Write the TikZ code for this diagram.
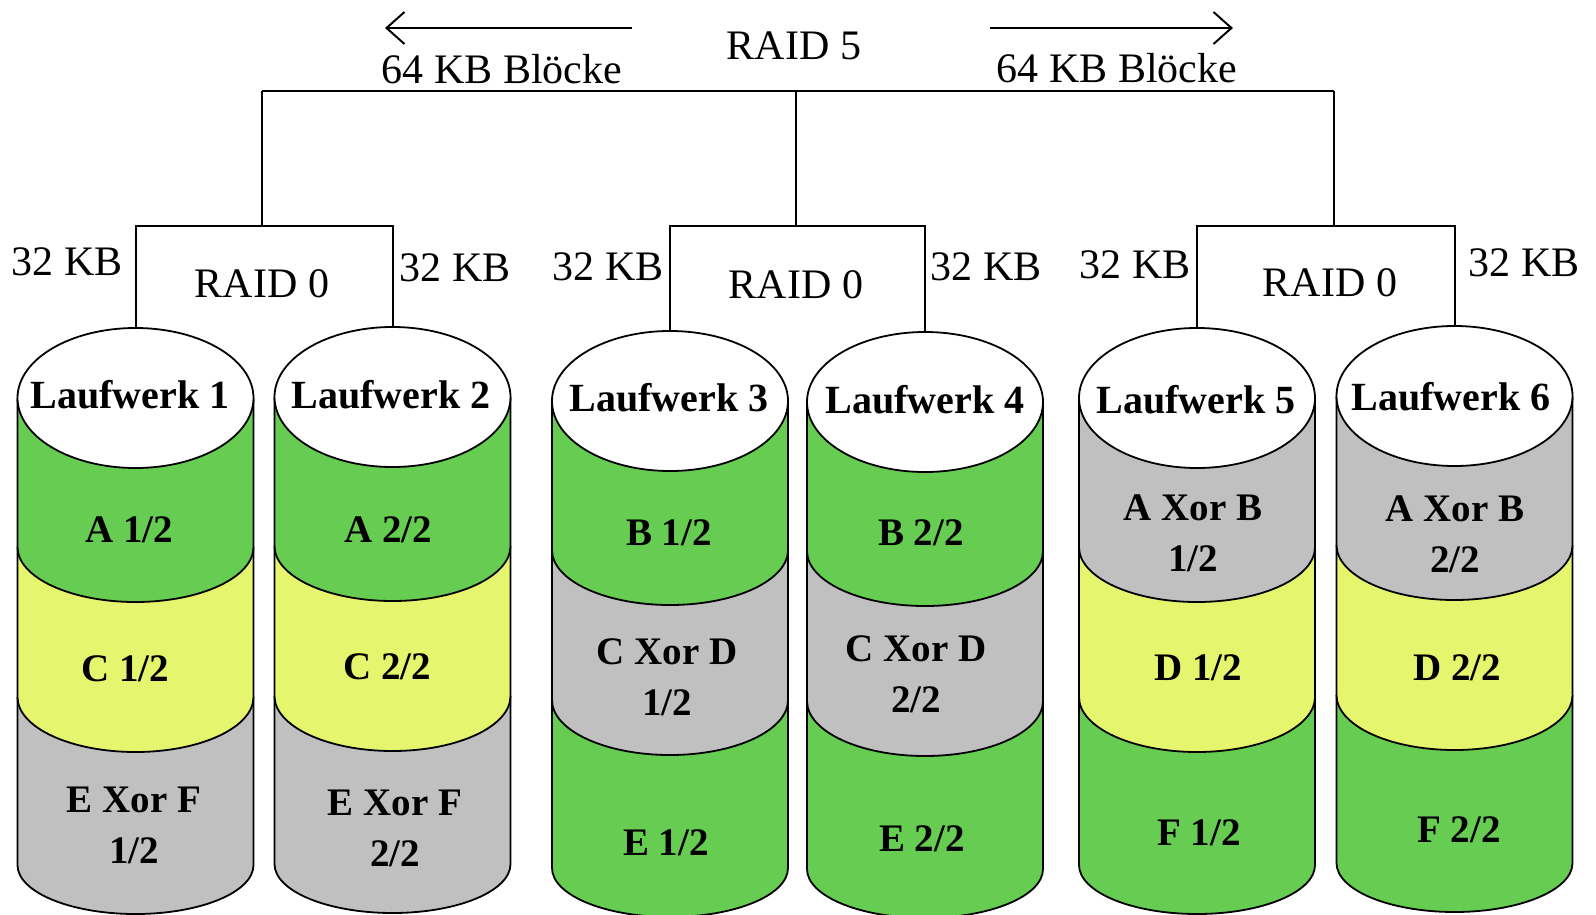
\documentclass[tikz,border=0pt]{standalone}
\usepackage{fontspec}
\setmainfont{Liberation Serif}
\usetikzlibrary{arrows.meta}

\definecolor{diskgreen}{RGB}{102,204,82}
\definecolor{diskyellow}{RGB}{230,245,110}
\definecolor{diskgray}{RGB}{192,192,192}

% \disk{cx}{ty}{band 1}{band 2}{band 3}{name of top point}
% cx: axis of the drive, ty: centre of the top lid (y grows downwards)
\newcommand\disk[6]{%
  % lowest band
  \fill[#5] ({#1-118},{#2+299}) -- ({#1-118},{#2+467})
     arc[start angle=180,end angle=360,x radius=118pt,y radius=49pt]
     -- ({#1+118},{#2+299}) -- cycle;
  \draw[diskline] ({#1-118},{#2+299}) -- ({#1-118},{#2+467})
     arc[start angle=180,end angle=360,x radius=118pt,y radius=49pt]
     -- ({#1+118},{#2+299});
  % middle band
  \fill[#4] ({#1-118},{#2+149}) -- ({#1-118},{#2+299})
     arc[start angle=180,end angle=360,x radius=118pt,y radius=55pt]
     -- ({#1+118},{#2+149}) -- cycle;
  \draw[diskline] ({#1-118},{#2+149}) -- ({#1-118},{#2+299})
     arc[start angle=180,end angle=360,x radius=118pt,y radius=55pt]
     -- ({#1+118},{#2+149});
  % upper band
  \fill[#3] ({#1-118},{#2}) -- ({#1-118},{#2+149})
     arc[start angle=180,end angle=360,x radius=118pt,y radius=55pt]
     -- ({#1+118},{#2}) -- cycle;
  \draw[diskline] ({#1-118},{#2}) -- ({#1-118},{#2+149})
     arc[start angle=180,end angle=360,x radius=118pt,y radius=55pt]
     -- ({#1+118},{#2});
  % lid
  \filldraw[diskline,fill=white] (#1,#2) ellipse[x radius=118pt,y radius=70pt];
  \coordinate (#6) at (#1,{#2-70});
}

\tikzset{
  wire/.style={line width=2pt,black},
  diskline/.style={line width=1.8pt,black},
  lbl/.style={inner sep=0pt,font=\fontsize{42}{48}\selectfont},
  drivename/.style={inner sep=0pt,font=\fontsize{40}{46}\selectfont\bfseries},
  blocktext/.style={inner sep=0pt,align=center,font=\fontsize{39}{51}\selectfont\bfseries},
  barb/.style={line width=2pt,-{Straight Barb[length=18pt,width=32pt,line width=2pt]}}
}

\begin{document}
\begin{tikzpicture}[x=1pt,y=-1pt]
\useasboundingbox (0,0) rectangle (1596,915);

% drives
\disk{135.5}{398}{diskgreen}{diskyellow}{diskgray}{d1}
\disk{392.5}{397}{diskgreen}{diskyellow}{diskgray}{d2}
\disk{670}{401}{diskgreen}{diskgray}{diskgreen}{d3}
\disk{925}{402}{diskgreen}{diskgray}{diskgreen}{d4}
\disk{1197}{398}{diskgray}{diskyellow}{diskgreen}{d5}
\disk{1454.5}{396}{diskgray}{diskyellow}{diskgreen}{d6}

% RAID 5 level
\node[lbl] (raid5) at (794,46) {RAID 5};
\coordinate (r5L) at (262,91);
\coordinate (r5M) at (796,91);
\coordinate (r5R) at (1334,91);
\draw[wire] (r5L) -- (r5R);

\coordinate (arrLs) at (632,28);
\coordinate (arrLe) at (385,28);
\coordinate (arrRs) at (990,28);
\coordinate (arrRe) at (1233,28);
\draw[barb] (arrLs) -- (arrLe);
\draw[barb] (arrRs) -- (arrRe);
\node[lbl] (blkL) at (502,69) {64 KB Blöcke};
\node[lbl] (blkR) at (1117,68) {64 KB Blöcke};

% RAID 0 groups
\coordinate (g1) at (262,226);
\coordinate (g2) at (796,226);
\coordinate (g3) at (1334,226);
\draw[wire] (r5L) -- (g1);
\draw[wire] (r5M) -- (g2);
\draw[wire] (r5R) -- (g3);
\draw[wire] (d1) |- (g1) -| (d2);
\draw[wire] (d3) |- (g2) -| (d4);
\draw[wire] (d5) |- (g3) -| (d6);

\node[lbl] (raid0a) at (262,284) {RAID 0};
\node[lbl] (raid0b) at (796,285) {RAID 0};
\node[lbl] (raid0c) at (1330,283) {RAID 0};

\node[lbl] (kb1) at (67,262) {32 KB};
\node[lbl] (kb2) at (455,268) {32 KB};
\node[lbl] (kb3) at (608,267) {32 KB};
\node[lbl] (kb4) at (986,267) {32 KB};
\node[lbl] (kb5) at (1135,265) {32 KB};
\node[lbl] (kb6) at (1524,263) {32 KB};

% drive names
\node[drivename] (lw1) at (130,395) {Laufwerk 1};
\node[drivename] (lw2) at (391,395) {Laufwerk 2};
\node[drivename] (lw3) at (669,398) {Laufwerk 3};
\node[drivename] (lw4) at (925,400) {Laufwerk 4};
\node[drivename] (lw5) at (1196,400) {Laufwerk 5};
\node[drivename] (lw6) at (1451,397) {Laufwerk 6};

% block contents
\node[blocktext] (b1a) at (129,530) {A 1/2};
\node[blocktext] (b1b) at (125,669) {C 1/2};
\node[blocktext] (b1c) at (134,825) {E Xor F\\1/2};

\node[blocktext] (b2a) at (388,530) {A 2/2};
\node[blocktext] (b2b) at (387,667) {C 2/2};
\node[blocktext] (b2c) at (395,828) {E Xor F\\2/2};

\node[blocktext] (b3a) at (669,533) {B 1/2};
\node[blocktext] (b3b) at (667,677) {C Xor D\\1/2};
\node[blocktext] (b3c) at (666,843) {E 1/2};

\node[blocktext] (b4a) at (921,533) {B 2/2};
\node[blocktext] (b4b) at (916,674) {C Xor D\\2/2};
\node[blocktext] (b4c) at (922,839) {E 2/2};

\node[blocktext] (b5a) at (1193,533) {A Xor B\\1/2};
\node[blocktext] (b5b) at (1198,668) {D 1/2};
\node[blocktext] (b5c) at (1199,833) {F 1/2};

\node[blocktext] (b6a) at (1455,534) {A Xor B\\2/2};
\node[blocktext] (b6b) at (1457,668) {D 2/2};
\node[blocktext] (b6c) at (1459,830) {F 2/2};
\end{tikzpicture}
\end{document}
